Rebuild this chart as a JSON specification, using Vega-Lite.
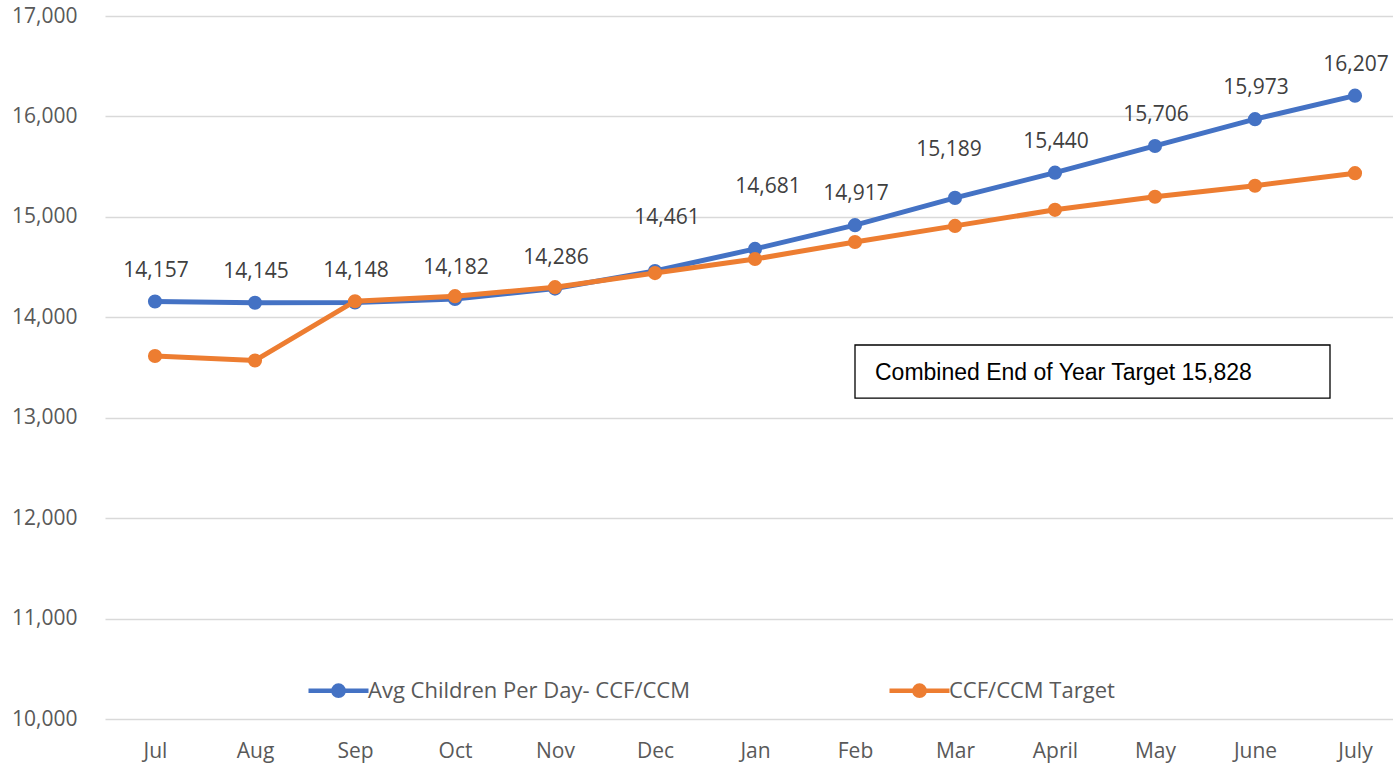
{
  "$schema": "https://vega.github.io/schema/vega-lite/v6.json",
  "width": 1288,
  "height": 703,
  "autosize": "none",
  "padding": {"left": 105, "top": 16, "right": 0, "bottom": 45},
  "background": "white",
  "config": {
    "view": {"stroke": null},
    "font": "Open Sans",
    "numberFormat": ",",
    "axis": {"labelFont": "Open Sans", "labelFontSize": 21, "labelColor": "#595959", "ticks": false, "domain": false, "title": null}
  },
  "data": {
    "values": [
      {"i": 0, "month": "Jul", "series": "Avg Children Per Day- CCF/CCM", "value": 14157},
      {"i": 1, "month": "Aug", "series": "Avg Children Per Day- CCF/CCM", "value": 14145},
      {"i": 2, "month": "Sep", "series": "Avg Children Per Day- CCF/CCM", "value": 14148},
      {"i": 3, "month": "Oct", "series": "Avg Children Per Day- CCF/CCM", "value": 14182},
      {"i": 4, "month": "Nov", "series": "Avg Children Per Day- CCF/CCM", "value": 14286},
      {"i": 5, "month": "Dec", "series": "Avg Children Per Day- CCF/CCM", "value": 14461},
      {"i": 6, "month": "Jan", "series": "Avg Children Per Day- CCF/CCM", "value": 14681},
      {"i": 7, "month": "Feb", "series": "Avg Children Per Day- CCF/CCM", "value": 14917},
      {"i": 8, "month": "Mar", "series": "Avg Children Per Day- CCF/CCM", "value": 15189},
      {"i": 9, "month": "April", "series": "Avg Children Per Day- CCF/CCM", "value": 15440},
      {"i": 10, "month": "May", "series": "Avg Children Per Day- CCF/CCM", "value": 15706},
      {"i": 11, "month": "June", "series": "Avg Children Per Day- CCF/CCM", "value": 15973},
      {"i": 12, "month": "July", "series": "Avg Children Per Day- CCF/CCM", "value": 16207},
      {"i": 0, "month": "Jul", "series": "CCF/CCM Target", "value": 13615},
      {"i": 1, "month": "Aug", "series": "CCF/CCM Target", "value": 13570},
      {"i": 2, "month": "Sep", "series": "CCF/CCM Target", "value": 14160},
      {"i": 3, "month": "Oct", "series": "CCF/CCM Target", "value": 14210},
      {"i": 4, "month": "Nov", "series": "CCF/CCM Target", "value": 14300},
      {"i": 5, "month": "Dec", "series": "CCF/CCM Target", "value": 14440},
      {"i": 6, "month": "Jan", "series": "CCF/CCM Target", "value": 14580},
      {"i": 7, "month": "Feb", "series": "CCF/CCM Target", "value": 14750},
      {"i": 8, "month": "Mar", "series": "CCF/CCM Target", "value": 14910},
      {"i": 9, "month": "April", "series": "CCF/CCM Target", "value": 15070},
      {"i": 10, "month": "May", "series": "CCF/CCM Target", "value": 15200},
      {"i": 11, "month": "June", "series": "CCF/CCM Target", "value": 15310},
      {"i": 12, "month": "July", "series": "CCF/CCM Target", "value": 15435}
    ]
  },
  "layer": [
    {
      "transform": [{"filter": "datum.series === 'Avg Children Per Day- CCF/CCM'"}],
      "mark": {"type": "line", "strokeWidth": 5, "point": {"filled": true, "size": 200}},
      "encoding": {
        "x": {
          "field": "i",
          "type": "quantitative",
          "scale": {"domain": [-0.5, 12.38], "nice": false, "zero": false},
          "axis": {
            "values": [0, 1, 2, 3, 4, 5, 6, 7, 8, 9, 10, 11, 12],
            "labelExpr": "['Jul','Aug','Sep','Oct','Nov','Dec','Jan','Feb','Mar','April','May','June','July'][datum.value]",
            "grid": false,
            "labelPadding": 21,
            "labelFlush": false,
            "labelOverlap": false
          }
        },
        "y": {
          "field": "value",
          "type": "quantitative",
          "scale": {"domain": [10000, 17000], "nice": false, "zero": false},
          "axis": {
            "values": [10000, 11000, 12000, 13000, 14000, 15000, 16000, 17000],
            "labelExpr": "format(datum.value, ',')",
            "grid": true,
            "gridColor": "#d9d9d9",
            "gridWidth": 1.5,
            "labelPadding": 28
          }
        },
        "color": {
          "field": "series",
          "type": "nominal",
          "scale": {"domain": ["Avg Children Per Day- CCF/CCM", "CCF/CCM Target"], "range": ["#4472C4", "#ED7D31"]},
          "legend": {
            "title": null,
            "orient": "none",
            "legendX": 201,
            "legendY": 642,
            "direction": "horizontal",
            "symbolType": "M-1,0H1M-0.17,0A0.17,0.17,0,1,0,0.17,0A0.17,0.17,0,1,0,-0.17,0Z",
            "symbolSize": 3600,
            "symbolStrokeWidth": 4.5,
            "labelFont": "Open Sans",
            "labelFontSize": 22,
            "labelColor": "#595959",
            "labelOffset": -3,
            "labelLimit": 600,
            "columnPadding": 190,
            "encode": {"symbols": {"update": {"fill": {"scale": "color", "field": "value"}, "fillOpacity": {"value": 1}}}}
          }
        }
      }
    },
    {
      "transform": [{"filter": "datum.series === 'CCF/CCM Target'"}],
      "mark": {"type": "line", "strokeWidth": 5, "point": {"filled": true, "size": 200}},
      "encoding": {
        "x": {"field": "i", "type": "quantitative"},
        "y": {"field": "value", "type": "quantitative"},
        "color": {"field": "series", "type": "nominal"}
      }
    },
    {
      "transform": [{"filter": "datum.series === 'Avg Children Per Day- CCF/CCM' && datum.i !== 5 && datum.i !== 6 && datum.i !== 8"}],
      "mark": {"type": "text", "dy": -31, "dx": 1, "font": "Open Sans", "fontSize": 21, "color": "#404040", "baseline": "middle"},
      "encoding": {
        "x": {"field": "i", "type": "quantitative"},
        "y": {"field": "value", "type": "quantitative"},
        "text": {"field": "value", "type": "quantitative", "format": ","}
      }
    },
    {
      "transform": [{"filter": "datum.series === 'Avg Children Per Day- CCF/CCM' && datum.i === 5"}],
      "mark": {"type": "text", "dy": -53, "dx": 12, "font": "Open Sans", "fontSize": 21, "color": "#404040", "baseline": "middle"},
      "encoding": {
        "x": {"field": "i", "type": "quantitative"},
        "y": {"field": "value", "type": "quantitative"},
        "text": {"field": "value", "type": "quantitative", "format": ","}
      }
    },
    {
      "transform": [{"filter": "datum.series === 'Avg Children Per Day- CCF/CCM' && datum.i === 6"}],
      "mark": {"type": "text", "dy": -62, "dx": 13, "font": "Open Sans", "fontSize": 21, "color": "#404040", "baseline": "middle"},
      "encoding": {
        "x": {"field": "i", "type": "quantitative"},
        "y": {"field": "value", "type": "quantitative"},
        "text": {"field": "value", "type": "quantitative", "format": ","}
      }
    },
    {
      "transform": [{"filter": "datum.series === 'Avg Children Per Day- CCF/CCM' && datum.i === 8"}],
      "mark": {"type": "text", "dy": -48, "dx": -6, "font": "Open Sans", "fontSize": 21, "color": "#404040", "baseline": "middle"},
      "encoding": {
        "x": {"field": "i", "type": "quantitative"},
        "y": {"field": "value", "type": "quantitative"},
        "text": {"field": "value", "type": "quantitative", "format": ","}
      }
    },
    {
      "data": {"values": [{"label": "Combined End of Year Target 15,828"}]},
      "mark": {"type": "rect", "fill": "white", "stroke": "black", "strokeWidth": 1.3},
      "encoding": {
        "x": {"datum": 7.0},
        "x2": {"datum": 11.75},
        "y": {"datum": 13724},
        "y2": {"datum": 13196}
      }
    },
    {
      "data": {"values": [{"label": "Combined End of Year Target 15,828"}]},
      "mark": {"type": "text", "align": "left", "baseline": "middle", "font": "Liberation Sans", "fontSize": 23, "color": "black"},
      "encoding": {
        "x": {"datum": 7.2},
        "y": {"datum": 13445},
        "text": {"field": "label"}
      }
    }
  ]
}
